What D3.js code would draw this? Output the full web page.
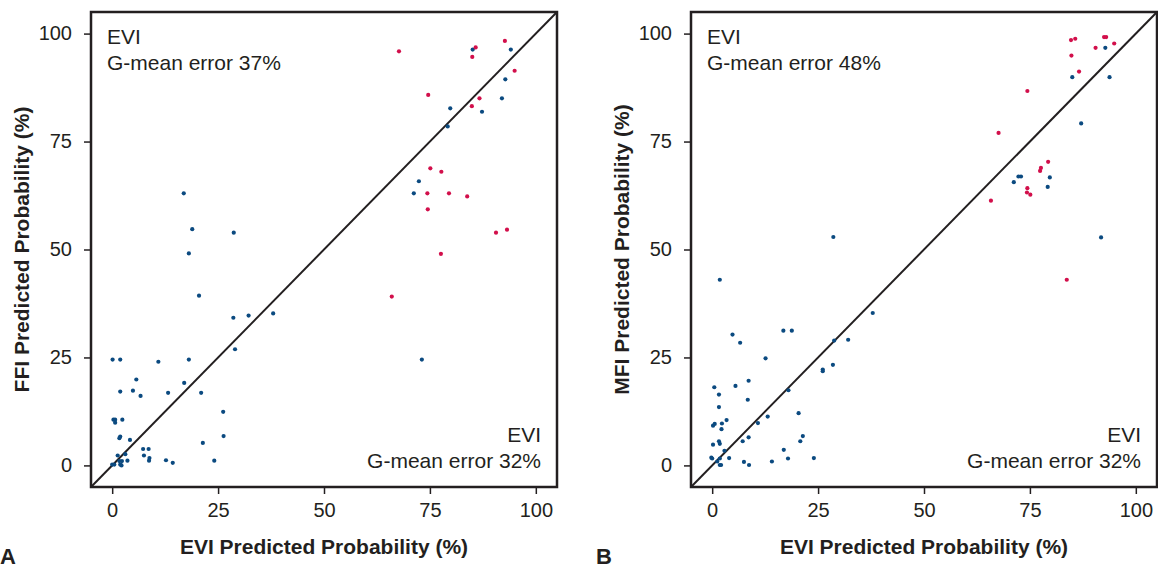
<!DOCTYPE html>
<html>
<head>
<meta charset="utf-8">
<script src="https://cdn.jsdelivr.net/npm/d3@7"></script>
<style>
  body { margin: 0; background: #fff; }
  svg { display: block; font-family: "Liberation Sans", Arial, sans-serif; }
</style>
</head>
<body>
<svg id="chart" width="1158" height="569"></svg>
<script>
// panel A: EVI (x) vs FFI (y), panel B: EVI (x) vs MFI (y)
const ticks = [0, 25, 50, 75, 100];

const ffiBlue = [
  [16.9, 63.0], [18.9, 54.7], [28.7, 53.9], [18.1, 49.1], [85.1, 96.3], [94.1, 96.3],
  [92.8, 89.4], [92.0, 85.0], [79.8, 82.7], [87.3, 81.9], [79.2, 78.5], [72.4, 65.8],
  [71.2, 63.0], [73.1, 24.5], [20.5, 39.3], [28.6, 34.2], [32.2, 34.7], [38.0, 35.2],
  [29.0, 26.9], [0.1, 24.5], [1.9, 24.5], [10.9, 24.0], [18.1, 24.5], [5.7, 19.9],
  [17.0, 19.1], [1.9, 17.1], [4.9, 17.3], [6.7, 16.1], [13.2, 16.8], [21.0, 16.8],
  [26.2, 12.4], [0.3, 10.6], [0.7, 10.6], [0.7, 9.9], [2.4, 10.6], [1.9, 6.7],
  [1.7, 6.3], [4.2, 5.9], [26.3, 6.8], [21.4, 5.2], [1.3, 2.3], [3.1, 2.6],
  [7.3, 3.8], [8.6, 3.8], [7.5, 2.3], [8.8, 1.7], [8.7, 1.1], [0.0, 0.2],
  [0.5, 0.2], [1.7, 1.0], [2.3, 1.0], [1.9, 0.2], [2.2, 0.0], [3.6, 1.1],
  [12.7, 1.2], [14.3, 0.6], [24.1, 1.1]
];
const ffiRed = [
  [67.7, 95.9], [85.8, 96.8], [85.0, 94.6], [92.7, 98.3], [95.0, 91.4], [74.6, 85.8],
  [86.7, 85.0], [84.9, 83.2], [75.1, 68.8], [77.7, 68.0], [74.4, 63.0], [79.5, 63.0],
  [83.8, 62.3], [74.5, 59.3], [90.6, 53.9], [93.2, 54.6], [77.6, 49.0], [66.0, 39.1]
];

const mfiBlue = [
  [28.6, 52.9], [92.8, 96.7], [85.0, 89.9], [93.8, 89.9], [87.1, 79.2], [72.3, 66.9],
  [72.9, 66.9], [79.7, 66.7], [71.2, 65.6], [79.2, 64.5], [91.8, 52.8], [1.8, 43.0],
  [4.8, 30.3], [6.6, 28.4], [16.8, 31.2], [18.8, 31.2], [37.9, 35.3], [28.8, 28.9],
  [32.1, 29.1], [12.6, 24.8], [26.1, 22.2], [26.1, 21.8], [28.5, 23.3], [0.5, 18.1],
  [5.5, 18.4], [8.6, 19.6], [1.6, 16.4], [8.4, 15.2], [18.0, 17.4], [1.6, 13.5],
  [20.4, 12.1], [0.2, 9.2], [0.6, 9.6], [2.3, 9.7], [3.4, 10.5], [2.2, 8.4],
  [13.1, 11.3], [10.8, 9.8], [0.2, 4.8], [1.6, 5.6], [1.8, 5.0], [2.9, 3.4],
  [7.2, 5.6], [8.6, 6.5], [20.8, 5.6], [21.4, 6.8], [16.9, 3.6], [-0.2, 1.8],
  [0.0, 1.6], [1.2, 0.9], [1.8, 1.6], [1.8, 0.1], [2.1, 0.1], [4.0, 1.7],
  [7.5, 0.8], [8.7, 0.1], [14.1, 0.9], [17.9, 1.6], [24.0, 1.7]
];
const mfiRed = [
  [84.7, 98.5], [85.7, 98.8], [92.5, 99.2], [93.0, 99.2], [94.9, 97.7], [90.5, 96.7],
  [84.8, 94.9], [86.6, 91.2], [74.4, 86.7], [67.6, 77.0], [79.3, 70.3], [77.6, 68.9],
  [77.4, 68.2], [74.4, 64.2], [74.3, 63.2], [75.1, 62.7], [65.8, 61.3], [83.7, 43.0]
];

const panels = [
  { letter: "A", left: 91, yTitle: "FFI Predicted Probability (%)", blue: ffiBlue, red: ffiRed,
    topNote: ["EVI", "G-mean error 37%"], bottomNote: ["EVI", "G-mean error 32%"] },
  { letter: "B", left: 691, yTitle: "MFI Predicted Probability (%)", blue: mfiBlue, red: mfiRed,
    topNote: ["EVI", "G-mean error 48%"], bottomNote: ["EVI", "G-mean error 32%"] }
];

const svg = d3.select("#chart");
const plotTop = 12, w = 466, h = 475;
const ink = "#231f20", blue = "#0b4a80", red = "#d20f4b";

panels.forEach(p => {
  const g = svg.append("g").attr("transform", `translate(${p.left},${plotTop})`);
  const x = d3.scaleLinear().domain([-5, 105]).range([0, w]);
  const y = d3.scaleLinear().domain([-5, 105]).range([h, 0]);

  const xAxis = g.append("g").attr("transform", `translate(0,${h})`)
    .call(d3.axisBottom(x).tickValues(ticks).tickSize(7).tickPadding(9));
  const yAxis = g.append("g")
    .call(d3.axisLeft(y).tickValues(ticks).tickSize(7).tickPadding(12));
  [xAxis, yAxis].forEach(a => {
    a.select(".domain").remove();
    a.selectAll("line").attr("stroke", ink).attr("stroke-width", 1.5);
    a.selectAll("text").attr("fill", ink).attr("font-size", 20)
      .attr("font-family", "'Liberation Sans', Arial, sans-serif");
  });

  // identity line
  g.append("line")
    .attr("x1", x(-5)).attr("y1", y(-5)).attr("x2", x(105)).attr("y2", y(105))
    .attr("stroke", ink).attr("stroke-width", 2);

  g.selectAll(".dot-b").data(p.blue).enter().append("circle")
    .attr("cx", d => x(d[0])).attr("cy", d => y(d[1])).attr("r", 2.1).attr("fill", blue);
  g.selectAll(".dot-r").data(p.red).enter().append("circle")
    .attr("cx", d => x(d[0])).attr("cy", d => y(d[1])).attr("r", 2.1).attr("fill", red);

  g.append("rect").attr("width", w).attr("height", h)
    .attr("fill", "none").attr("stroke", ink).attr("stroke-width", 2.5);

  // notes
  p.topNote.forEach((t, i) => {
    g.append("text").attr("x", 16).attr("y", 32 + i * 26).attr("font-size", 21)
      .attr("fill", ink).text(t);
  });
  p.bottomNote.forEach((t, i) => {
    g.append("text").attr("x", w - 16).attr("y", 430 + i * 26).attr("font-size", 21)
      .attr("text-anchor", "end").attr("fill", ink).text(t);
  });

  // titles
  g.append("text").attr("x", w / 2).attr("y", h + 67).attr("text-anchor", "middle")
    .attr("font-size", 21).attr("font-weight", "bold").attr("fill", ink)
    .text("EVI Predicted Probability (%)");
  g.append("text").attr("transform", "rotate(-90)").attr("x", -h / 2).attr("y", -62)
    .attr("text-anchor", "middle").attr("font-size", 21).attr("font-weight", "bold")
    .attr("fill", ink).text(p.yTitle);

  svg.append("text").attr("x", p.letter === "A" ? 0 : 596).attr("y", 564)
    .attr("font-size", 22).attr("font-weight", "bold").attr("fill", ink).text(p.letter);
});
</script>
</body>
</html>
